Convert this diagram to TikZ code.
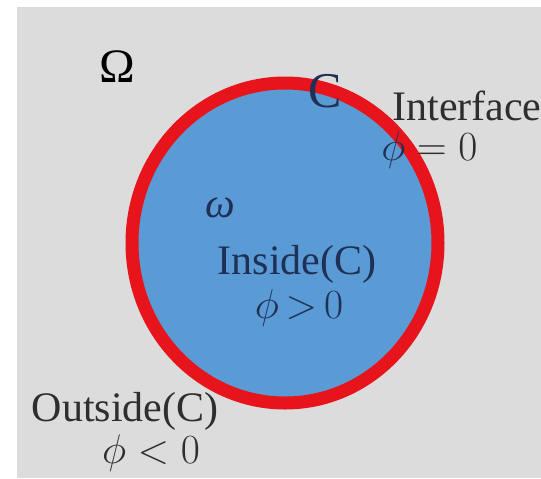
\documentclass[tikz,border=0pt]{standalone}
\usepackage{fontspec}
\setmainfont{Liberation Serif}
\usepackage{tikz}
\definecolor{domaingray}{HTML}{DCDCDC}
\definecolor{regionblue}{HTML}{5B9BD5}
\definecolor{curvered}{HTML}{E8141B}
\definecolor{inknavy}{HTML}{1F3057}
\definecolor{inkdark}{HTML}{2E2E2E}

\begin{document}
\begin{tikzpicture}[x=0.5pt, y=-0.5pt,
    outlbl/.style={font=\fontsize{21}{24}\selectfont, text=inkdark, inner sep=0pt},
    inlbl/.style={font=\fontsize{21}{24}\selectfont, text=inknavy, inner sep=0pt}]
  \useasboundingbox (0,0) rectangle (541,478);
  % domain
  \fill[domaingray] (17,7) rectangle (541,478);
  % the region and its curve
  \draw[curvered, fill=regionblue, line width=6.5pt] (285,243) ellipse [x radius=153, y radius=160];
  % labels outside
  \node[outlbl, font=\fontsize{24}{28}\selectfont, text=black] (Omega) at (117,67) {Ω};
  \node[outlbl, anchor=west] (iface) at (392,106) {Interface};
  \node[outlbl, anchor=west] (ifacephi) at (381,150) {$\textcolor{inknavy}{\phi} = 0$};
  \node[outlbl] (outside) at (125,411) {Outside(C)};
  \node[outlbl] (outphi) at (151,453) {$\phi < 0$};
  % labels inside
  \node[inlbl, font=\fontsize{25}{28}\selectfont] (curveC) at (325,91) {C};
  \node[inlbl] (omega) at (220,208) {\itshape ω};
  \node[inlbl] (inside) at (297,264) {Inside(C)};
  \node[inlbl] (inphi) at (299,308) {$\phi\,{>}\,0$};
\end{tikzpicture}
\end{document}
